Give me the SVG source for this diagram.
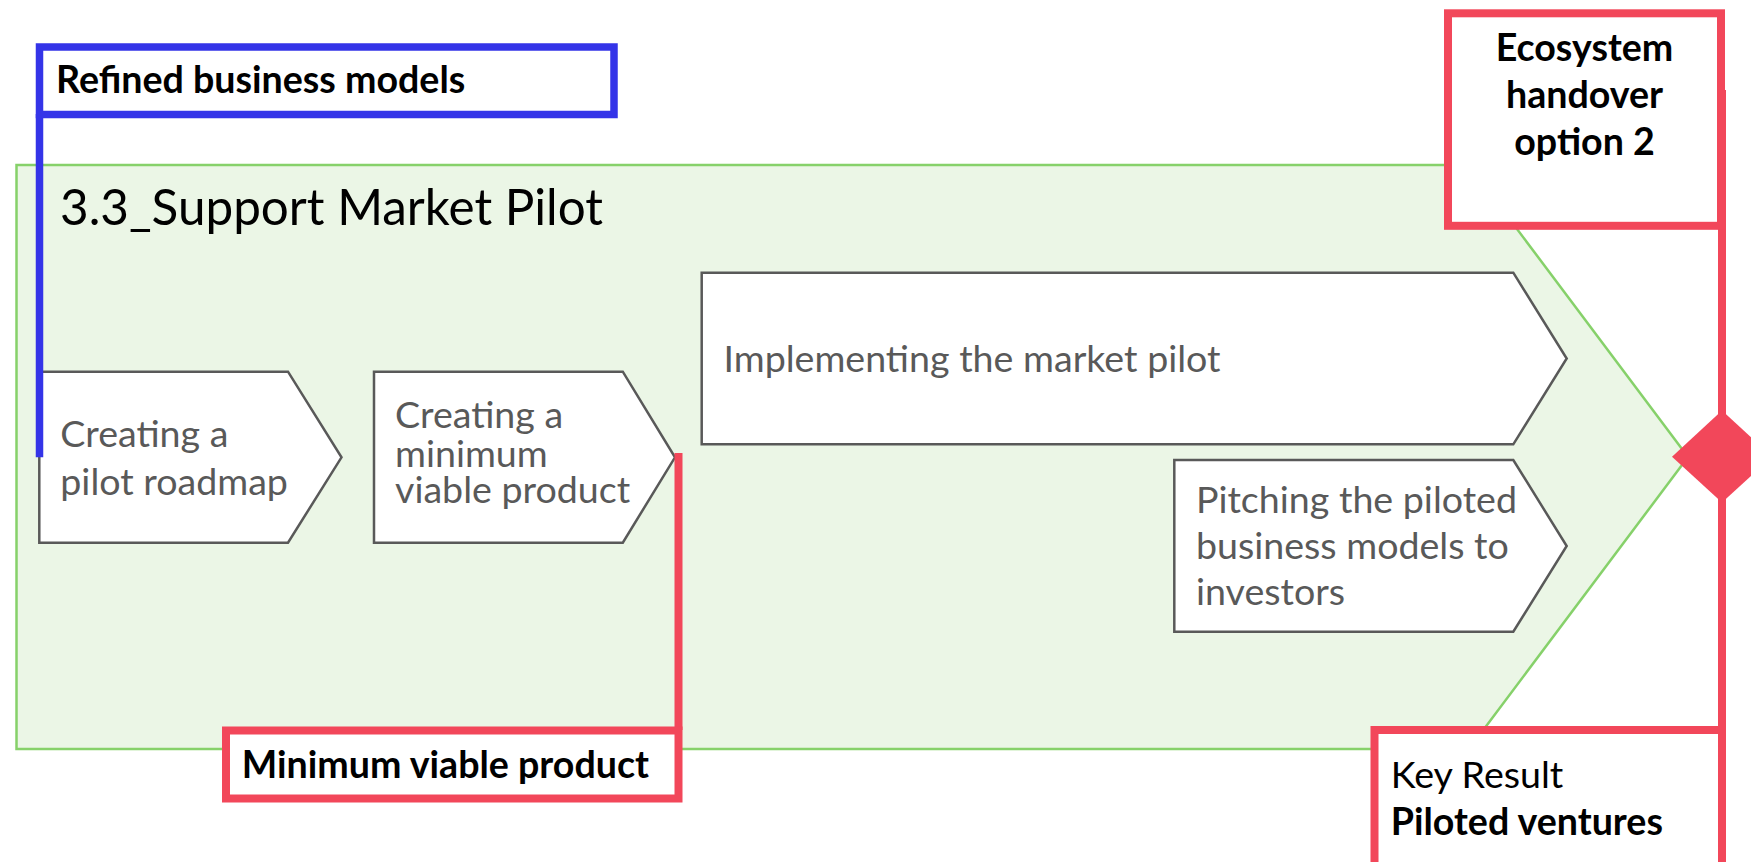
<svg xmlns="http://www.w3.org/2000/svg" width="1751" height="862" viewBox="0 0 1751 862">
<style>
.t{font-family:Lato,"Liberation Sans",sans-serif;font-size:37.6px}
.g{fill:#595959}
.k{fill:#000}
.b{font-weight:bold}
.step{fill:#fff;stroke:#595959;stroke-width:2.5;stroke-linejoin:miter}
.red{fill:#fff;stroke:#F2475A;stroke-width:8}
.redline{stroke:#F2475A;stroke-width:8;fill:none}
</style>
<rect width="1751" height="862" fill="#fff"/>
<g id="phase">
<polygon points="16.5,165 1469,165 1688,457 1469,749 16.5,749" fill="#EBF6E6" stroke="#86D16A" stroke-width="2.5"/>
<text class="t k" x="60" y="225" style="font-size:49.4px">3.3_Support Market Pilot</text>
</g>
<g id="step1">
<polygon class="step" points="39.3,371.7 288,371.7 341.5,457.3 288,542.7 39.3,542.7"/>
<text class="t g" x="60.3" y="446.7">Creating a</text>
<text class="t g" x="60.3" y="495">pilot roadmap</text>
</g>
<g id="step2">
<polygon class="step" points="374,371.7 622.8,371.7 675,457.3 622.8,542.7 374,542.7"/>
<text class="t g" x="395" y="428.3">Creating a</text>
<text class="t g" x="395" y="466.7">minimum</text>
<text class="t g" x="395" y="503">viable product</text>
</g>
<g id="step3">
<polygon class="step" points="701.7,272.7 1513.3,272.7 1566.7,358.5 1513.3,444.3 701.7,444.3"/>
<text class="t g" x="723.5" y="371.7">Implementing the market pilot</text>
</g>
<g id="step4">
<polygon class="step" points="1174.3,460 1513.3,460 1566.7,546 1513.3,631.7 1174.3,631.7"/>
<text class="t g" x="1196" y="513">Pitching the piloted</text>
<text class="t g" x="1196" y="559">business models to</text>
<text class="t g" x="1196" y="605">investors</text>
</g>
<g id="connectors">
<line x1="39.5" y1="114" x2="39.5" y2="457.3" stroke="#3434E8" stroke-width="7.5"/>
<line class="redline" x1="678.5" y1="453" x2="678.5" y2="730"/>
<line class="redline" x1="1722" y1="90" x2="1722" y2="730"/>
<polygon points="1722,410.5 1772,456.7 1722,502.5 1672,456.7" fill="#F2475A"/>
</g>
<g id="input-refined">
<rect x="39.5" y="47" width="574.5" height="67.5" fill="#fff" stroke="#3434E8" stroke-width="7.5"/>
<text class="t k b" x="56" y="93.3">Refined business models</text>
</g>
<g id="output-mvp">
<rect class="red" x="226" y="730.5" width="452.5" height="68"/>
<text class="t k b" x="241.8" y="778.3">Minimum viable product</text>
</g>
<g id="handover">
<rect class="red" x="1448" y="13.3" width="273" height="212.5"/>
<text class="t k b" x="1584.5" y="60.7" text-anchor="middle">Ecosystem</text>
<text class="t k b" x="1584.5" y="108.3" text-anchor="middle">handover</text>
<text class="t k b" x="1584.5" y="155" text-anchor="middle">option 2</text>
</g>
<g id="key-result">
<rect class="red" x="1374.5" y="730" width="347.5" height="160"/>
<text class="t k" x="1390.7" y="788.3">Key Result</text>
<text class="t k b" x="1390.7" y="835">Piloted ventures</text>
</g>
</svg>
